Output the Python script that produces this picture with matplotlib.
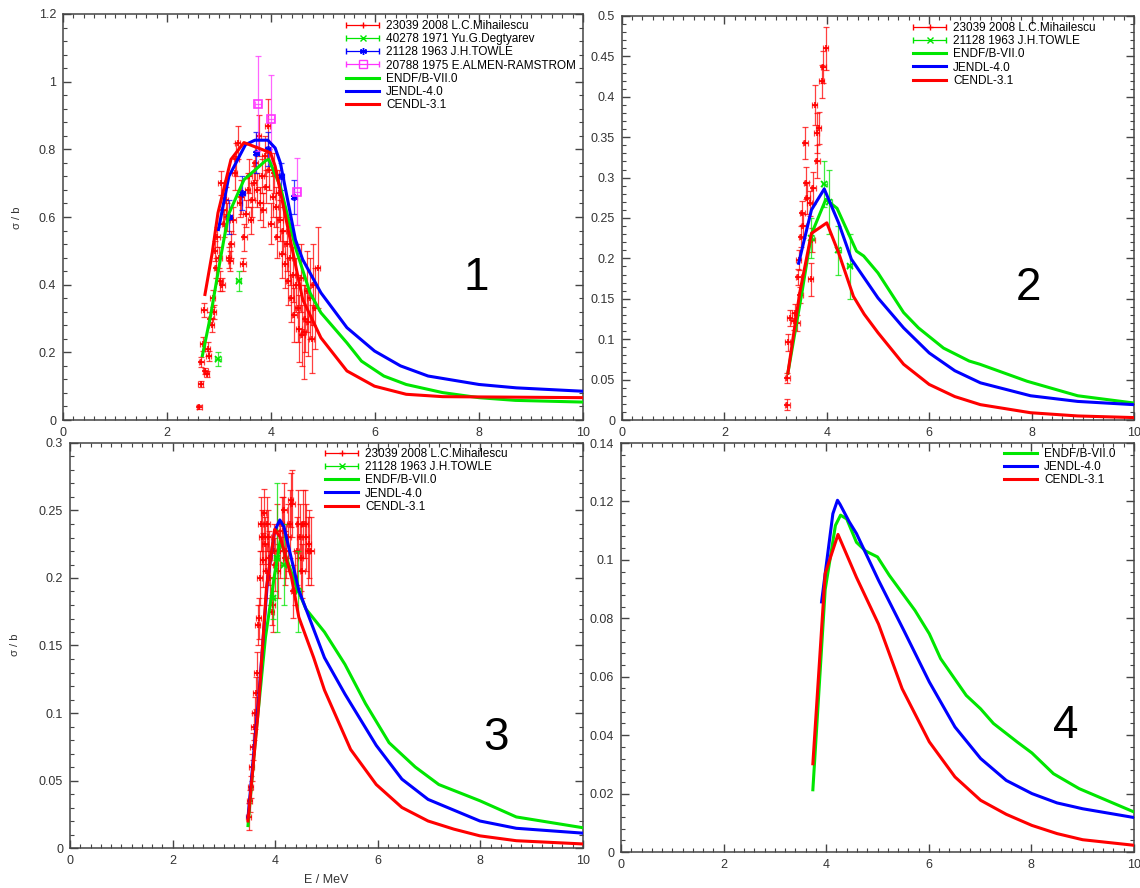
import numpy as np
import matplotlib
matplotlib.use("Agg")
import matplotlib.pyplot as plt
from matplotlib.ticker import MultipleLocator, FuncFormatter
from matplotlib.legend_handler import HandlerErrorbar
from matplotlib.container import ErrorbarContainer

plt.rcParams['font.family'] = ['Liberation Sans', 'DejaVu Sans']

RED = '#ff0000'
GREEN = '#00e600'
BLUE = '#0000ff'
MAGENTA = '#ff33ff'
ASTERISK = (6, 2, 0)

# ---------------- panel 1 ----------------
p1_endf_e = [2.68, 2.84, 2.98, 3.09, 3.19, 3.48, 3.90, 3.96, 4.18, 4.47, 4.75, 4.96, 5.46, 5.74, 6.17, 6.60, 7.30, 8.00, 8.70, 10.0]
p1_endf_s = [0.19, 0.31, 0.435, 0.53, 0.61, 0.71, 0.767, 0.77, 0.69, 0.51, 0.376, 0.317, 0.228, 0.174, 0.13, 0.105, 0.081, 0.066, 0.058, 0.053]
p1_jendl_e = [2.99, 3.19, 3.51, 3.69, 3.94, 4.08, 4.18, 4.47, 4.61, 4.96, 5.46, 5.99, 6.49, 7.02, 8.00, 8.72, 10.0]
p1_jendl_s = [0.563, 0.72, 0.814, 0.827, 0.827, 0.804, 0.76, 0.533, 0.474, 0.376, 0.273, 0.204, 0.16, 0.13, 0.105, 0.095, 0.085]
p1_cendl_e = [2.73, 2.87, 2.98, 3.23, 3.48, 3.99, 4.08, 4.33, 4.61, 4.96, 5.46, 5.99, 6.60, 7.30, 10.0]
p1_cendl_s = [0.371, 0.494, 0.612, 0.77, 0.82, 0.79, 0.75, 0.563, 0.356, 0.243, 0.145, 0.10, 0.076, 0.069, 0.066]

p1_mih_e = [2.62, 2.65, 2.66, 2.69, 2.71, 2.74, 2.76, 2.78, 2.80, 2.83, 2.86, 2.88, 2.90, 2.92, 2.95,
            2.97, 3.00, 3.02, 3.04, 3.06, 3.08, 3.10, 3.13, 3.16, 3.19, 3.22, 3.24, 3.27, 3.30, 3.33,
            3.36, 3.40, 3.43, 3.46, 3.49, 3.52, 3.55, 3.58, 3.61, 3.64, 3.67, 3.70, 3.73, 3.76, 3.79,
            3.82, 3.85, 3.88, 3.91, 3.94, 3.97, 4.00, 4.03, 4.06, 4.09, 4.12, 4.15, 4.18, 4.21, 4.24,
            4.27, 4.30, 4.33, 4.36, 4.39, 4.42, 4.45, 4.48, 4.51, 4.54, 4.57, 4.60, 4.63, 4.66, 4.69,
            4.72, 4.75, 4.78, 4.81, 4.85, 4.90]
p1_mih_s = [0.038, 0.106, 0.172, 0.225, 0.325, 0.145, 0.136, 0.21, 0.19, 0.30, 0.28, 0.36, 0.32, 0.50, 0.45,
            0.54, 0.48, 0.41, 0.70, 0.40, 0.62, 0.58, 0.65, 0.60, 0.48, 0.47, 0.52, 0.59, 0.73, 0.77,
            0.82, 0.64, 0.66, 0.46, 0.54, 0.61, 0.68, 0.72, 0.59, 0.65, 0.70, 0.76, 0.68, 0.84, 0.64,
            0.72, 0.62, 0.78, 0.69, 0.87, 0.74, 0.58, 0.66, 0.73, 0.63, 0.54, 0.67, 0.59, 0.49, 0.56,
            0.46, 0.52, 0.41, 0.48, 0.36, 0.43, 0.31, 0.40, 0.33, 0.27, 0.42, 0.25, 0.26, 0.30, 0.38,
            0.29, 0.36, 0.24, 0.40, 0.33, 0.45]
p1_mih_err = [0.005, 0.008, 0.015, 0.02, 0.02, 0.01, 0.01, 0.02, 0.015, 0.02, 0.02, 0.025, 0.02, 0.03, 0.03,
              0.03, 0.03, 0.03, 0.035, 0.02, 0.04, 0.04, 0.04, 0.04, 0.03, 0.03, 0.04, 0.04, 0.05, 0.05,
              0.05, 0.04, 0.05, 0.02, 0.04, 0.04, 0.05, 0.05, 0.04, 0.05, 0.05, 0.05, 0.05, 0.06, 0.05,
              0.05, 0.05, 0.06, 0.05, 0.08, 0.06, 0.06, 0.06, 0.06, 0.06, 0.06, 0.07, 0.06, 0.07, 0.07,
              0.07, 0.08, 0.07, 0.08, 0.07, 0.08, 0.08, 0.08, 0.10, 0.10, 0.10, 0.09, 0.14, 0.10, 0.12,
              0.10, 0.12, 0.10, 0.12, 0.12, 0.12]
p1_deg_e = [2.98, 3.38]
p1_deg_s = [0.18, 0.41]
p1_deg_err = [0.02, 0.03]
p1_tow_e = [3.20, 3.45, 3.72, 3.95, 4.20, 4.45]
p1_tow_s = [0.60, 0.67, 0.79, 0.80, 0.72, 0.66]
p1_tow_err = [0.05, 0.05, 0.06, 0.05, 0.04, 0.05]
p1_alm_e = [3.75, 4.00, 4.50]
p1_alm_s = [0.935, 0.89, 0.675]
p1_alm_err = [0.14, 0.13, 0.10]

# ---------------- panel 2 ----------------
p2_endf_e = [3.24, 3.52, 3.70, 3.98, 4.20, 4.58, 4.72, 5.00, 5.50, 5.79, 6.28, 6.78, 6.99, 7.91, 8.90, 10.0]
p2_endf_s = [0.058, 0.16, 0.23, 0.273, 0.262, 0.209, 0.203, 0.182, 0.133, 0.114, 0.089, 0.073, 0.069, 0.048, 0.03, 0.021]
p2_jendl_e = [3.45, 3.70, 3.95, 4.23, 4.48, 5.00, 5.50, 6.00, 6.50, 7.00, 7.98, 8.90, 10.0]
p2_jendl_s = [0.194, 0.26, 0.286, 0.244, 0.199, 0.151, 0.114, 0.083, 0.061, 0.046, 0.03, 0.023, 0.019]
p2_cendl_e = [3.24, 3.47, 3.70, 4.00, 4.23, 4.52, 4.73, 5.00, 5.50, 6.00, 6.50, 7.00, 7.98, 8.90, 10.0]
p2_cendl_s = [0.058, 0.157, 0.231, 0.244, 0.207, 0.153, 0.131, 0.108, 0.069, 0.044, 0.029, 0.019, 0.009, 0.005, 0.003]

p2_mih_e = [3.23, 3.23, 3.24, 3.28, 3.35, 3.38, 3.42, 3.44, 3.45, 3.48, 3.50, 3.52, 3.54, 3.58,
            3.60, 3.62, 3.67, 3.69, 3.72, 3.74, 3.76, 3.80, 3.81, 3.84, 3.90, 3.93, 3.98]
p2_mih_s = [0.019, 0.052, 0.096, 0.126, 0.122, 0.133, 0.12, 0.177, 0.198, 0.155, 0.227, 0.256, 0.24, 0.343,
            0.293, 0.275, 0.268, 0.174, 0.223, 0.287, 0.39, 0.355, 0.32, 0.361, 0.419, 0.437, 0.46]
p2_mih_err = [0.007, 0.006, 0.01, 0.01, 0.01, 0.01, 0.01, 0.01, 0.012, 0.01, 0.013, 0.015, 0.015, 0.02,
              0.02, 0.02, 0.015, 0.02, 0.015, 0.02, 0.025, 0.025, 0.02, 0.02, 0.02, 0.02, 0.027]
p2_tow_e = [3.70, 3.95, 4.05, 4.22, 4.45]
p2_tow_s = [0.225, 0.292, 0.27, 0.21, 0.19]
p2_tow_err = [0.025, 0.028, 0.04, 0.03, 0.04]

# ---------------- panel 3 ----------------
p3_endf_e = [3.47, 3.60, 3.81, 3.99, 4.10, 4.39, 4.60, 4.96, 5.36, 5.76, 6.22, 6.73, 7.19, 7.99, 8.70, 10.0]
p3_endf_s = [0.0166, 0.0746, 0.156, 0.203, 0.228, 0.196, 0.177, 0.16, 0.136, 0.107, 0.078, 0.06, 0.047, 0.035, 0.023, 0.015]
p3_jendl_e = [3.47, 3.67, 3.85, 3.99, 4.09, 4.17, 4.46, 4.96, 5.36, 5.97, 6.47, 6.98, 7.99, 8.70, 10.0]
p3_jendl_s = [0.0227, 0.107, 0.198, 0.235, 0.243, 0.238, 0.191, 0.141, 0.114, 0.076, 0.051, 0.036, 0.02, 0.0146, 0.011]
p3_cendl_e = [3.47, 3.67, 3.83, 3.99, 4.10, 4.32, 4.46, 4.75, 4.96, 5.47, 5.97, 6.47, 6.98, 7.48, 7.99, 8.70, 10.0]
p3_cendl_s = [0.02, 0.102, 0.193, 0.236, 0.23, 0.20, 0.171, 0.141, 0.117, 0.073, 0.047, 0.03, 0.02, 0.014, 0.009, 0.0054, 0.003]

p3_mih_e = [3.48, 3.50, 3.52, 3.54, 3.56, 3.58, 3.60, 3.62, 3.64, 3.66, 3.68, 3.70, 3.72, 3.74, 3.76,
            3.78, 3.80, 3.82, 3.84, 3.86, 3.88, 3.90, 3.93, 3.95, 3.97, 4.00, 4.03, 4.05, 4.10, 4.13,
            4.15, 4.18, 4.20, 4.22, 4.25, 4.28, 4.30, 4.33, 4.35, 4.38, 4.42, 4.45, 4.48, 4.50, 4.53,
            4.55, 4.58, 4.60, 4.63, 4.65, 4.70]
p3_mih_s = [0.023, 0.035, 0.045, 0.06, 0.075, 0.09, 0.10, 0.115, 0.13, 0.165, 0.17, 0.20, 0.24, 0.23, 0.213,
            0.248, 0.225, 0.205, 0.24, 0.23, 0.215, 0.20, 0.175, 0.18, 0.22, 0.21, 0.235, 0.205, 0.22, 0.24,
            0.235, 0.25, 0.215, 0.22, 0.23, 0.24, 0.258, 0.255, 0.19, 0.20, 0.22, 0.24, 0.23, 0.215, 0.205,
            0.24, 0.24, 0.23, 0.22, 0.225, 0.22]
p3_mih_err = [0.01, 0.008, 0.008, 0.01, 0.01, 0.01, 0.012, 0.012, 0.015, 0.015, 0.015, 0.02, 0.02, 0.02, 0.02,
              0.018, 0.02, 0.02, 0.02, 0.02, 0.02, 0.02, 0.01, 0.02, 0.02, 0.02, 0.02, 0.02, 0.02, 0.02,
              0.025, 0.02, 0.02, 0.02, 0.025, 0.025, 0.02, 0.025, 0.02, 0.02, 0.025, 0.025, 0.025, 0.025, 0.02,
              0.025, 0.025, 0.025, 0.025, 0.025, 0.025]
p3_tow_e = [3.95, 4.03, 4.17, 4.45]
p3_tow_s = [0.185, 0.215, 0.21, 0.19]
p3_tow_err = [0.015, 0.055, 0.03, 0.03]

# ---------------- panel 4 ----------------
p4_endf_e = [3.74, 3.98, 4.18, 4.28, 4.40, 4.59, 4.77, 5.00, 5.23, 5.73, 6.01, 6.23, 6.73, 7.01, 7.26, 7.72, 8.01, 8.43, 8.93, 10.0]
p4_endf_s = [0.0213, 0.0898, 0.1118, 0.1153, 0.114, 0.106, 0.103, 0.101, 0.0947, 0.0827, 0.0747, 0.0662, 0.0536,
             0.049, 0.044, 0.0377, 0.0339, 0.0268, 0.0217, 0.0137]
p4_jendl_e = [3.91, 3.98, 4.13, 4.22, 4.27, 4.45, 4.59, 5.02, 5.52, 6.01, 6.51, 7.01, 7.51, 8.01, 8.50, 9.00, 10.0]
p4_jendl_s = [0.0856, 0.0953, 0.1158, 0.1204, 0.119, 0.113, 0.109, 0.093, 0.0756, 0.0582, 0.0428, 0.032, 0.0245,
              0.02, 0.0168, 0.0148, 0.0118]
p4_cendl_e = [3.74, 3.98, 4.23, 4.59, 5.02, 5.48, 6.01, 6.51, 7.01, 7.51, 8.01, 8.50, 9.00, 10.0]
p4_cendl_s = [0.0302, 0.0953, 0.1087, 0.094, 0.078, 0.0559, 0.0377, 0.0257, 0.0177, 0.0129, 0.0091, 0.0063, 0.0042, 0.0023]

LBL_MIH = '23039 2008 L.C.Mihailescu'
LBL_DEG = '40278 1971 Yu.G.Degtyarev'
LBL_TOW = '21128 1963 J.H.TOWLE'
LBL_ALM = '20788 1975 E.ALMEN-RAMSTROM'
LIB_LABELS = ['ENDF/B-VII.0', 'JENDL-4.0', 'CENDL-3.1']
XERR = 0.05

W, H = 1140, 888
fig = plt.figure(figsize=(W / 100, H / 100), dpi=100)


def px_axes(l, t, r, b):
    return fig.add_axes([l / W, 1 - b / H, (r - l) / W, (b - t) / H])


def style(ax, ymax, ymajor, yminor):
    ax.set_xlim(0, 10)
    ax.set_ylim(0, ymax)
    ax.xaxis.set_major_locator(MultipleLocator(2))
    ax.xaxis.set_minor_locator(MultipleLocator(0.2))
    ax.yaxis.set_major_locator(MultipleLocator(ymajor))
    ax.yaxis.set_minor_locator(MultipleLocator(yminor))
    ax.yaxis.set_major_formatter(FuncFormatter(lambda v, p: f"{v:g}"))
    ax.tick_params(which='both', direction='in', top=True, right=True,
                   color='#444444', labelcolor='#333333', labelsize=9, pad=5)
    ax.tick_params(which='major', length=6, width=1)
    ax.tick_params(which='minor', length=3, width=0.8)
    for s in ax.spines.values():
        s.set_color('#444444')
        s.set_linewidth(1.1)


def exp(ax, e, s, err, color, marker, ms=5, mfc=None, alpha=0.75):
    ax.errorbar(e, s, yerr=err, xerr=XERR, fmt='none', ecolor=color,
                elinewidth=0.9, capsize=2.2, capthick=0.9, alpha=alpha, zorder=2)
    ax.plot(e, s, ls='none', marker=marker, color=color, ms=ms, mew=1.2,
            mfc=mfc or color, zorder=2)


def dummy(ax, color, marker, label, ms=5, mfc=None):
    # legend-only entry: horizontal bar with caps and the marker in the middle
    return ax.errorbar([np.nan], [np.nan], xerr=[1], fmt='', marker=marker, ls='none',
                       color=color, ms=ms, mew=1, mfc=mfc or color,
                       elinewidth=0.9, capsize=2.5, capthick=0.9, label=label)


def libs(ax, data):
    hs = []
    for (e, s), c, lab in zip(data, [GREEN, BLUE, RED], LIB_LABELS):
        h, = ax.plot(e, s, color=c, lw=2.2, label=lab, zorder=3)
        hs.append(h)
    return hs


def legend(ax, handles, x, y):
    ax.legend(handles=handles, loc='upper left', bbox_to_anchor=(x / W, 1 - y / H),
              bbox_transform=fig.transFigure, frameon=False, fontsize=8.5,
              labelspacing=0.1, handlelength=2.8, handletextpad=0.6, borderpad=0,
              borderaxespad=0, handler_map={ErrorbarContainer: HandlerErrorbar(xerr_size=1.4)})


# panel 1
ax1 = px_axes(63, 14, 583, 420)
style(ax1, 1.2, 0.2, 0.04)
exp(ax1, p1_mih_e, p1_mih_s, p1_mih_err, RED, '+')
exp(ax1, p1_deg_e, p1_deg_s, p1_deg_err, GREEN, 'x', ms=4)
exp(ax1, p1_tow_e, p1_tow_s, p1_tow_err, BLUE, ASTERISK, ms=5)
exp(ax1, p1_alm_e, p1_alm_s, p1_alm_err, MAGENTA, 's', ms=6, mfc='none')
h = [dummy(ax1, RED, '+', LBL_MIH), dummy(ax1, GREEN, 'x', LBL_DEG, 4),
     dummy(ax1, BLUE, ASTERISK, LBL_TOW), dummy(ax1, MAGENTA, 's', LBL_ALM, 6, 'none')]
h += libs(ax1, [(p1_endf_e, p1_endf_s), (p1_jendl_e, p1_jendl_s), (p1_cendl_e, p1_cendl_s)])
legend(ax1, h, 346, 20)

# panel 2
ax2 = px_axes(622, 16, 1134, 420)
style(ax2, 0.5, 0.05, 0.01)
exp(ax2, p2_mih_e, p2_mih_s, p2_mih_err, RED, '+')
exp(ax2, p2_tow_e, p2_tow_s, p2_tow_err, GREEN, 'x', ms=4)
h = [dummy(ax2, RED, '+', LBL_MIH), dummy(ax2, GREEN, 'x', LBL_TOW, 4)]
h += libs(ax2, [(p2_endf_e, p2_endf_s), (p2_jendl_e, p2_jendl_s), (p2_cendl_e, p2_cendl_s)])
legend(ax2, h, 913, 22)

# panel 3
ax3 = px_axes(70, 443, 583, 848)
style(ax3, 0.3, 0.05, 0.01)
exp(ax3, p3_mih_e, p3_mih_s, p3_mih_err, RED, '+')
exp(ax3, p3_tow_e, p3_tow_s, p3_tow_err, GREEN, 'x', ms=4)
h = [dummy(ax3, RED, '+', LBL_MIH), dummy(ax3, GREEN, 'x', LBL_TOW, 4)]
h += libs(ax3, [(p3_endf_e, p3_endf_s), (p3_jendl_e, p3_jendl_s), (p3_cendl_e, p3_cendl_s)])
legend(ax3, h, 325, 448)

# panel 4
ax4 = px_axes(621, 443, 1134, 852)
style(ax4, 0.14, 0.02, 0.004)
h = libs(ax4, [(p4_endf_e, p4_endf_s), (p4_jendl_e, p4_jendl_s), (p4_cendl_e, p4_cendl_s)])
legend(ax4, h, 1004, 448)

# labels and panel numbers
fig.text(17 / W, 1 - 218 / H, 'σ / b', rotation=90, ha='center', va='center', fontsize=8, color='#333333')
fig.text(15 / W, 1 - 645 / H, 'σ / b', rotation=90, ha='center', va='center', fontsize=8, color='#333333')
fig.text(326 / W, 1 - 880 / H, 'E / MeV', ha='center', va='center', fontsize=9, color='#333333')
for num, x, y in [('1', 476, 290), ('2', 1028, 300), ('3', 496, 750), ('4', 1066, 738)]:
    fig.text(x / W, 1 - y / H, num, ha='center', va='baseline', fontsize=33, color='black')

fig.savefig('out.png', dpi=100)
